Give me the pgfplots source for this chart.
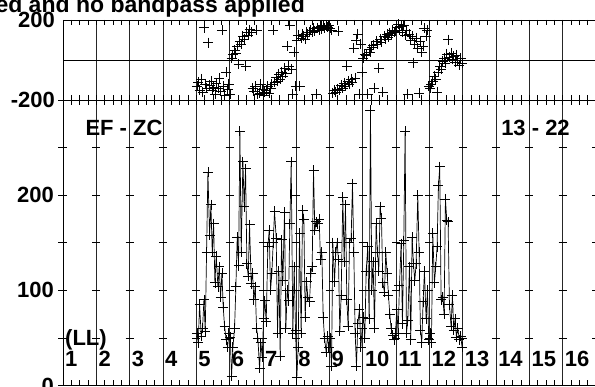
\documentclass[border=0pt]{standalone}
\usepackage{fontspec}
\setmainfont{Liberation Sans}
\usepackage{pgfplots}
\pgfplotsset{compat=1.18}
\usepackage{pgfplotstable}

% channel, amplitude, phase (IFs 5-12)
\pgfplotstableread{
x amp ph
5.02 55 -130
5.06 45 -110
5.10 85 -150
5.15 52 -95
5.19 60 -160
5.23 90 161
5.27 57 -120
5.31 140 -140
5.35 224 87
5.40 158 -125
5.44 190 -105
5.48 140 -150
5.52 170 -135
5.56 108 -170
5.60 136 -115
5.65 104 -140
5.69 125 -90
5.73 93 -155
5.77 118 150
5.81 82 -130
5.85 62 -175
5.90 48 -60
5.94 40 -145
5.98 55 -120
6.02 51 -170
6.06 10 10
6.10 40 27
6.15 60 48
6.19 104 35
6.23 156 70
6.27 126 -22
6.31 267 95
6.35 140 80
6.40 235 118
6.44 188 105
6.48 228 -30
6.52 128 140
6.56 115 125
6.60 169 152
6.65 107 140
6.69 118 -140
6.73 90 -155
6.77 104 -130
6.81 60 150
6.85 50 -170
6.90 18 -165
6.94 45 -120
6.98 30 -145
7.02 70 -175
7.06 89 -160
7.10 67 -150
7.15 146 -130
7.19 163 -165
7.23 100 -140
7.27 118 -120
7.31 150 150
7.35 183 -110
7.40 155 -85
7.44 55 -105
7.48 120 -70
7.52 31 -95
7.56 153 -60
7.60 110 -80
7.65 182 -40
7.69 60 -65
7.73 100 69
7.77 89 -30
7.81 170 175
7.85 235 -45
7.90 55 -170
7.94 125 40
7.98 58 -130
8.02 9 100
8.06 40 125
8.10 160 -130
8.15 55 110
8.19 184 130
8.23 175 118
8.27 72 105
8.31 109 140
8.35 93 128
8.40 88 138
8.44 118 150
8.48 125 140
8.52 226 158
8.56 163 145
8.60 172 -170
8.65 170 162
8.69 175 150
8.73 132 170
8.77 140 155
8.81 72 172
8.85 50 160
8.90 35 175
8.94 52 165
8.98 40 172
9.02 50 160
9.06 20 150
9.10 150 -165
9.15 109 -150
9.19 140 -160
9.23 150 -145
9.27 132 145
9.31 57 -150
9.35 95 -125
9.40 198 -140
9.44 130 -115
9.48 190 -130
9.52 90 -30
9.56 62 -105
9.60 150 -120
9.65 155 -95
9.69 212 -110
9.73 140 60
9.77 55 -90
9.81 20 100
9.85 65 130
9.90 80 -170
9.94 40 80
9.98 60 -60
10.02 72 10
10.06 50 30
10.10 120 25
10.15 146 -170
10.19 70 55
10.23 289 40
10.27 100 65
10.31 130 75
10.35 60 -140
10.40 170 95
10.44 140 80
10.48 120 -40
10.52 188 105
10.56 176 90
10.60 108 -160
10.65 98 120
10.69 140 105
10.73 118 130
10.77 95 115
10.81 75 135
10.85 60 125
10.90 53 150
10.94 48 138
10.98 55 145
11.02 80 165
11.06 55 178
11.10 105 150
11.15 149 168
11.19 65 140
11.23 152 172
11.27 267 125
11.31 55 150
11.35 68 -170
11.40 125 130
11.44 48 100
11.48 156 118
11.52 128 -13
11.56 110 80
11.60 128 110
11.65 200 60
11.69 140 -165
11.73 58 95
11.77 45 40
11.81 88 70
11.85 120 160
11.90 70 120
11.94 100 150
11.98 48 -130
12.02 55 -140
12.06 45 -120
12.10 160 -106
12.15 108 -80
12.19 125 -95
12.23 146 -160
12.27 210 -60
12.31 230 -30
12.35 90 -45
12.40 93 -5
12.44 75 10
12.48 196 -15
12.52 174 30
12.56 172 102
12.60 85 15
12.65 62 35
12.69 95 5
12.73 58 20
12.77 70 -10
12.81 51 25
12.85 60 0
12.90 48 -25
12.94 52 10
12.98 40 -15
}\vis

\pgfplotsset{
  panel/.style={
    scale only axis, width=533pt,
    xmin=1, xmax=17, xtick={1,...,17}, xticklabels={},
    minor x tick num=3, xtick pos=both, xtick align=inside,
    major tick length=5pt, minor tick length=5pt,
    xmajorgrids, x grid style={black!85, line width=0.7pt},
    axis line style={black, line width=0.7pt},
    tick style={black, line width=0.7pt},
    ytick pos=left,
    font=\fontsize{22}{26}\selectfont\bfseries,
    yticklabel style={anchor=east, inner sep=0pt, font=\fontsize{22}{26}\selectfont\bfseries},
  },
}

\begin{document}
\begin{tikzpicture}
\useasboundingbox (0pt,0pt) rectangle (595pt,387pt);

\node[anchor=base east, inner sep=0pt, font=\fontsize{23}{26}\selectfont\bfseries]
  at (305pt,374pt) {ed and no bandpass applied};

% phase panel
\begin{axis}[panel, at={(63pt,287pt)}, anchor=south west, height=80pt,
  ymin=-200, ymax=200, ytick={-200,0,200}, yticklabels={-200,,200},
  ytick style={draw=none}, yticklabel shift=8pt,
  ymajorgrids, y grid style={black, line width=0.7pt}]
\addplot[only marks, mark=+, mark size=5pt, mark options={black, line width=0.8pt}]
  table[x=x, y=ph] {\vis};
\end{axis}

% amplitude panel
\begin{axis}[panel, at={(63pt,1.5pt)}, anchor=south west, height=285.5pt,
  ymin=0, ymax=300, ytick={0,50,...,300}, yticklabels={0,,100,,200,,},
  ytick align=outside, yticklabel shift=4pt,
  ymajorgrids, y grid style={black, line width=0.7pt,
    dash pattern=on 8pt off 25.3125pt, dash phase=4pt}]
\addplot[black, line width=0.7pt, mark=+, mark size=5pt, mark options={line width=0.8pt}]
  table[x=x, y=amp] {\vis};
\pgfplotsinvokeforeach{1,...,16}{
  \node[anchor=base west, inner sep=0pt, xshift=2pt] at (axis cs:#1,19.7) {#1};
}
\node[anchor=base west, inner sep=0pt, xshift=2pt] at (axis cs:1,42.5) {(LL)};
\node[anchor=base west, inner sep=0pt] at (axis cs:1.67,262.6) {EF - ZC};
\node[anchor=base west, inner sep=0pt] at (axis cs:14.15,262.6) {13 - 22};
\end{axis}
\end{tikzpicture}
\end{document}
